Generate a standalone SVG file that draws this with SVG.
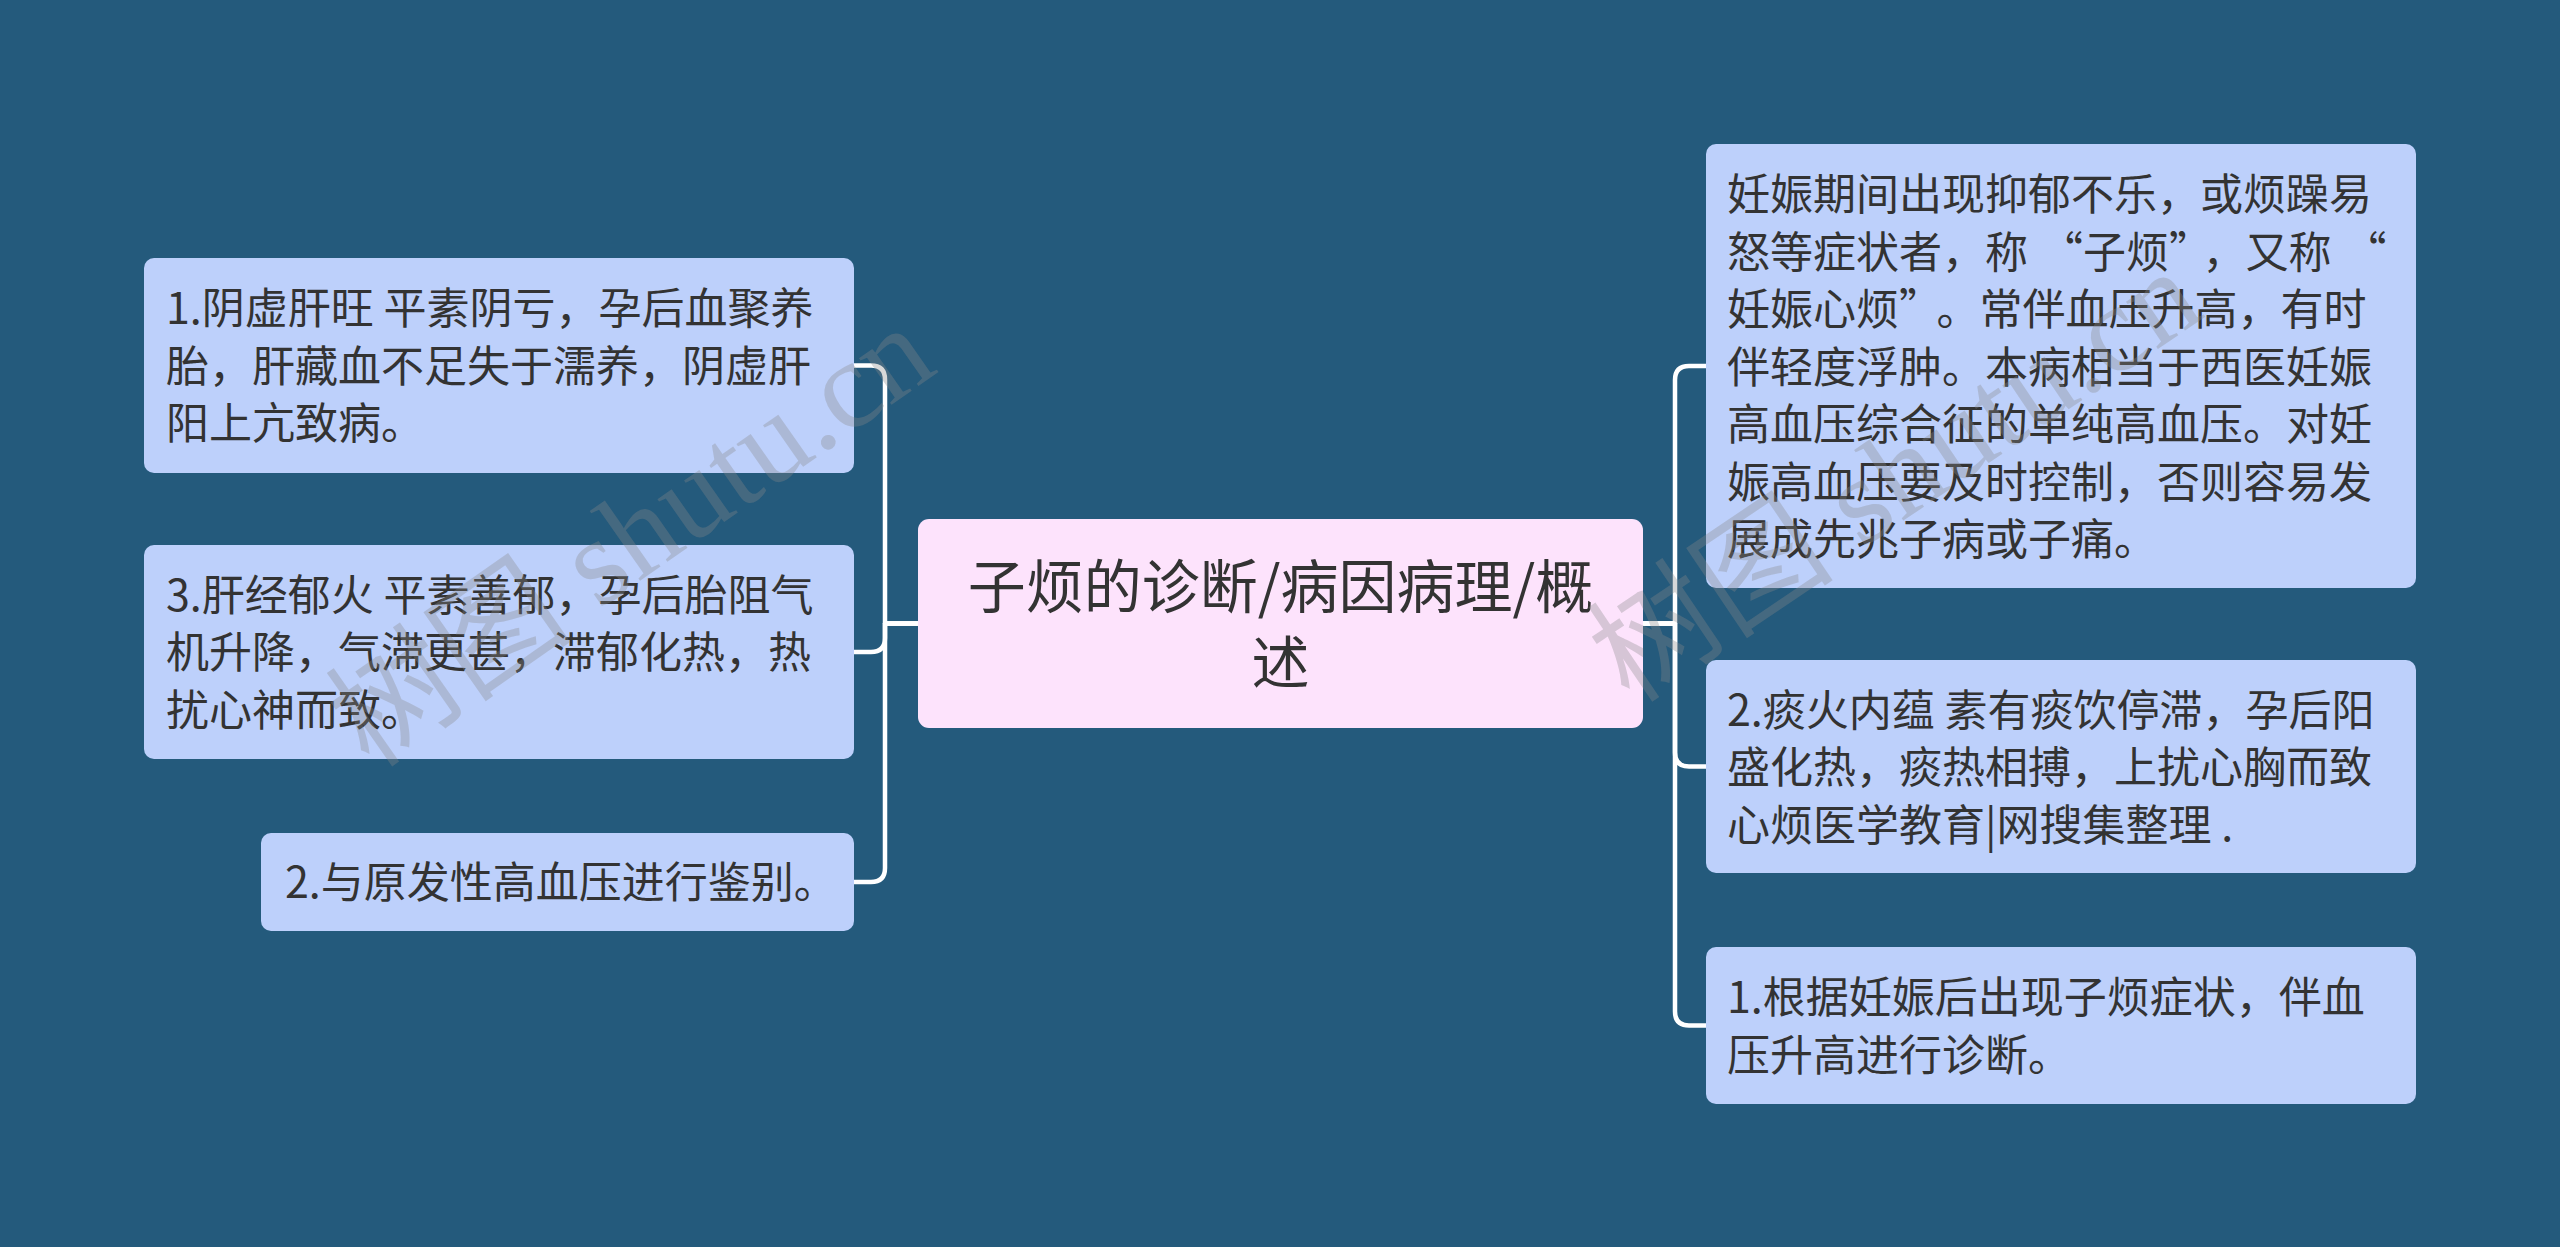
<svg xmlns="http://www.w3.org/2000/svg" width="2560" height="1247" viewBox="0 0 2560 1247">
<style>
.bg{fill:#245a7c}
.child{fill:#bdd0fb}
.root{fill:#fde3fc}
.t{font-family:"Noto Sans CJK SC","Noto Sans",sans-serif;font-size:43px;fill:#333333}
.rt{font-family:"Noto Sans CJK SC","Noto Sans",sans-serif;font-size:58px;fill:#333333}
.conn{fill:none;stroke:#ffffff;stroke-width:4.5;stroke-linecap:round;stroke-linejoin:round}
.wm{font-family:"Liberation Serif","Noto Sans CJK SC",serif;font-size:124px;fill:#8a8a8a;fill-opacity:0.33}
</style>
<rect class="bg" x="0" y="0" width="2560" height="1247"/>

<g id="connectors">
<path class="conn" d="M918,623.5 H885 V379.5 Q885,365.5 871,365.5 H854"/>
<path class="conn" d="M918,623.5 H885 V638 Q885,652 871,652 H854"/>
<path class="conn" d="M918,623.5 H885 V868 Q885,882 871,882 H854"/>
<path class="conn" d="M1643,623.5 H1675 V380 Q1675,366 1689,366 H1706"/>
<path class="conn" d="M1643,623.5 H1675 V752.5 Q1675,766.5 1689,766.5 H1706"/>
<path class="conn" d="M1643,623.5 H1675 V1011.5 Q1675,1025.5 1689,1025.5 H1706"/>
</g>

<g id="root">
<rect class="root" x="918" y="519" width="725" height="209" rx="11"/>
<text class="rt" text-anchor="middle"><tspan x="1280.5" y="608">子烦的诊断/病因病理/概</tspan><tspan x="1280.5" y="684">述</tspan></text>
</g>

<g id="left1">
<rect class="child" x="144" y="258" width="710" height="215" rx="10"/>
<text class="t"><tspan x="166" y="324">1.阴虚肝旺 平素阴亏，孕后血聚养</tspan><tspan x="166" y="381.5">胎，肝藏血不足失于濡养，阴虚肝</tspan><tspan x="166" y="439">阳上亢致病。</tspan></text>
</g>

<g id="left2">
<rect class="child" x="144" y="545" width="710" height="214" rx="10"/>
<text class="t"><tspan x="166" y="610.5">3.肝经郁火 平素善郁，孕后胎阻气</tspan><tspan x="166" y="668">机升降，气滞更甚，滞郁化热，热</tspan><tspan x="166" y="725.5">扰心神而致。</tspan></text>
</g>

<g id="left3">
<rect class="child" x="261" y="833" width="593" height="98" rx="10"/>
<text class="t"><tspan x="285" y="898">2.与原发性高血压进行鉴别。</tspan></text>
</g>

<g id="right1">
<rect class="child" x="1706" y="144" width="710" height="444" rx="10"/>
<text class="t"><tspan x="1727" y="210">妊娠期间出现抑郁不乐，或烦躁易</tspan><tspan x="1727" y="267.5">怒等症状者，称<tspan dx="12">“</tspan>子烦”<tspan dx="12">，</tspan>又称<tspan dx="12">“</tspan></tspan><tspan x="1727" y="325">妊娠心烦”<tspan dx="16">。</tspan>常伴血压升高，有时</tspan><tspan x="1727" y="382.5">伴轻度浮肿。本病相当于西医妊娠</tspan><tspan x="1727" y="440">高血压综合征的单纯高血压。对妊</tspan><tspan x="1727" y="497.5">娠高血压要及时控制，否则容易发</tspan><tspan x="1727" y="555">展成先兆子病或子痛。</tspan></text>
</g>

<g id="right2">
<rect class="child" x="1706" y="660" width="710" height="213" rx="10"/>
<text class="t"><tspan x="1727" y="725.5">2.痰火内蕴 素有痰饮停滞，孕后阳</tspan><tspan x="1727" y="783">盛化热，痰热相搏，上扰心胸而致</tspan><tspan x="1727" y="840.5">心烦医学教育|网搜集整理 .</tspan></text>
</g>

<g id="right3">
<rect class="child" x="1706" y="947" width="710" height="157" rx="10"/>
<text class="t"><tspan x="1727" y="1013">1.根据妊娠后出现子烦症状，伴血</tspan><tspan x="1727" y="1070.5">压升高进行诊断。</tspan></text>
</g>

<g id="watermarks">
<text class="wm" transform="translate(370,770) rotate(-35)">树图 shutu.cn</text>
<text class="wm" transform="translate(1630,705) rotate(-34)">树图 shutu.cn</text>
</g>
</svg>
